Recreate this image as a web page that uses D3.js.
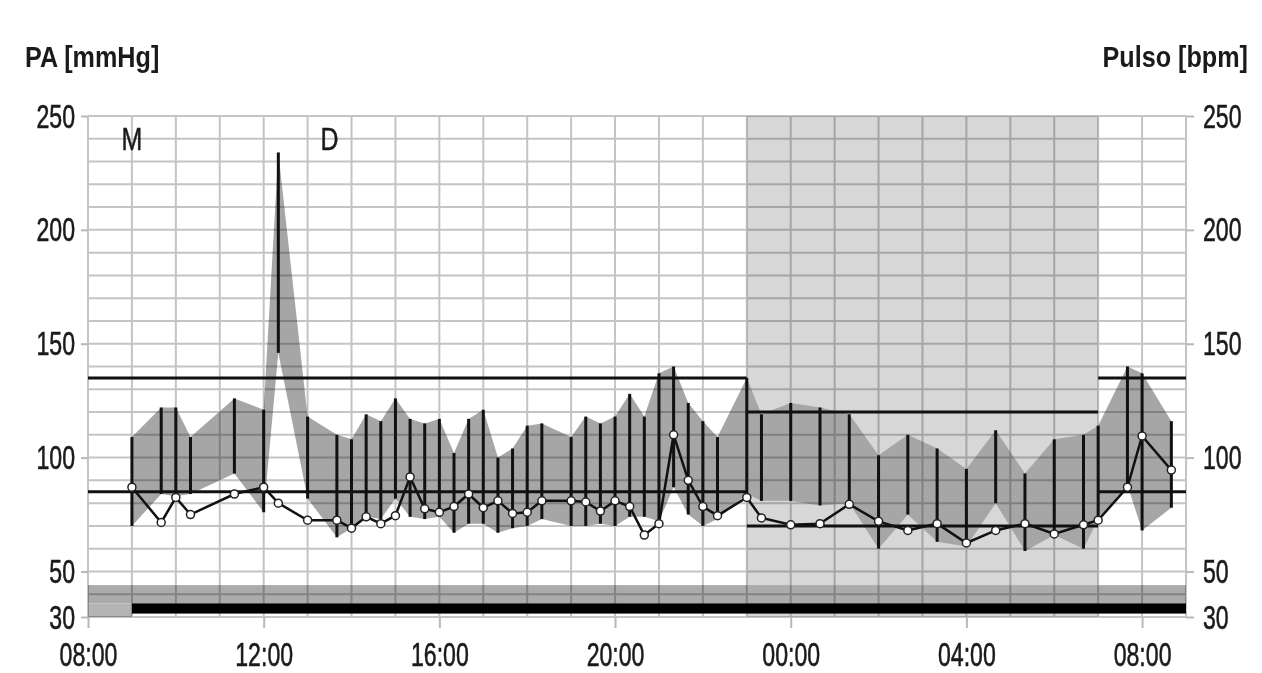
<!DOCTYPE html>
<html>
<head>
<meta charset="utf-8">
<script src="https://cdn.jsdelivr.net/npm/d3@7"></script>
<style>
    body { margin: 0; background: #fff; }
    text { font-family: "Liberation Sans", Arial, sans-serif; fill: #1a1a1a; }
</style>
</head>
<body>
<div id="chart"></div>
<script>
// measurement times (hh:mm, the list rolls over midnight)
var times = ["09:00","09:40","10:00","10:20","11:20","12:00","12:20","13:00","13:40","14:00",
             "14:20","14:40","15:00","15:20","15:40","16:00","16:20","16:40","17:00","17:20",
             "17:40","18:00","18:20","19:00","19:20","19:40","20:00","20:20","20:40","21:00",
             "21:20","21:40","22:00","22:20","23:00","23:20","00:00","00:40","01:20","02:00",
             "02:40","03:20","04:00","04:40","05:20","06:00","06:40","07:00","07:40","08:00",
             "08:40"];
var systolic = [109,122,122,109,126,121,234,118,110,108,
                119,116,126,117,115,117,102,117,121,100,
                104,114,115,109,118,115,118,128,118,137,
                140,124,116,109,135,119,124,122,119,101,
                110,104,95,112,93,108,110,114,140,137,
                116];
var diastolic = [70,84,83,84,93,76,146,82,65,69,
                 74,73,82,74,73,74,67,71,71,67,
                 69,70,73,70,70,71,70,74,74,72,
                 87,75,70,73,84,81,81,79,80,60,
                 75,63,61,80,59,66,60,73,88,68,
                 78];
var pulse = [87,71.5,82.5,75,84,87,80,72.5,72.5,69,
             74,71,74.5,91.5,77.5,76,78.5,84,78,81,
             75.5,76,81,81,80.5,76.5,81,78.5,66,71,
             110,90,78.5,74.5,82.5,73.5,70.5,71,79.5,72,
             68,71,62.5,68,71,66.5,70.5,72.5,87,109.5,
             94.5];

// reference limits: day / night / day
var limitBreaks = ["08:00","23:00","07:00","09:00"];
var limitSys = [135,120,135];
var limitDia = [85,70,85];
var nightSpan = ["23:00","07:00"];

var eventLabels = ["M","D"];
var eventTimes = ["09:00","13:30"];

var yTicks = [30,50,100,150,200,250];

var svgWidth = 1262, svgHeight = 673;
var margin = {top:116, right:76, bottom:56, left:88};
var chartWidth = svgWidth - margin.left - margin.right;
var chartHeight = svgHeight - margin.top - margin.bottom;

// hh:mm strings to dates, next day after a roll-over
function toDates(list) {
    var day = 0, prev = -1;
    return list.map(function(s){
        var p = s.split(":"), m = (+p[0])*60 + (+p[1]);
        if (m < prev) day++;
        prev = m;
        return new Date(2020, 0, 1 + day, +p[0], +p[1]);
    });
}

// the original lettering is narrow, squeeze it horizontally
function squeeze(sel, sx) {
    sel.each(function(){
        var t = d3.select(this);
        t.attr("x", (+t.attr("x") || 0) / sx)
         .attr("transform", "scale(" + sx + ",1)");
    });
}

var dates = toDates(times);
var data = dates.map(function(d, i){
    return {t: d, sys: systolic[i], dia: diastolic[i], pulse: pulse[i]};
});
var breaks = toDates(limitBreaks);
var night = toDates(nightSpan);
var events = toDates(eventTimes);

var svg = d3.select("#chart")
            .append("svg")
            .attr("width", svgWidth)
            .attr("height", svgHeight);

var chartGroup = svg.append("g")
                    .attr("transform", `translate(${margin.left},${margin.top})`);

var xScale = d3.scaleTime()
        .domain([breaks[0], breaks[breaks.length - 1]])
        .range([0, chartWidth]);

var yScale = d3.scaleLinear()
        .domain([30, 250])
        .range([chartHeight, 0]);

// night shading
chartGroup.append("rect")
    .attr("x", xScale(night[0]))
    .attr("y", 0)
    .attr("width", xScale(night[1]) - xScale(night[0]))
    .attr("height", chartHeight)
    .attr("fill", "#d7d7d7");

// systolic-diastolic band
var band = d3.area()
    .x(d => xScale(d.t))
    .y0(d => yScale(d.dia))
    .y1(d => yScale(d.sys));

chartGroup.append("path")
    .datum(data)
    .attr("d", band)
    .attr("fill", "#a6a6a6");

// bottom strip: gray band, black bar for the recording period
chartGroup.append("rect")
    .attr("x", 0)
    .attr("y", yScale(44))
    .attr("width", chartWidth)
    .attr("height", yScale(36) - yScale(44))
    .attr("fill", "#ababab");

chartGroup.append("rect")
    .attr("x", 0)
    .attr("y", yScale(36))
    .attr("width", xScale(dates[0]))
    .attr("height", yScale(30) - yScale(36))
    .attr("fill", "#b4b4b4");

chartGroup.append("rect")
    .attr("x", xScale(dates[0]))
    .attr("y", yScale(36))
    .attr("width", chartWidth - xScale(dates[0]))
    .attr("height", yScale(31.5) - yScale(36))
    .attr("fill", "#000");

// grid
var grid = chartGroup.append("g")
    .attr("stroke", "#c4c4c4")
    .attr("stroke-width", 2)
    .style("mix-blend-mode", "multiply");

grid.selectAll("line.h")
    .data(d3.range(30, 251, 10))
    .enter()
    .append("line")
        .attr("x1", 0)
        .attr("x2", chartWidth)
        .attr("y1", d => yScale(d))
        .attr("y2", d => yScale(d));

grid.selectAll("line.v")
    .data(xScale.ticks(d3.timeHour.every(1)))
    .enter()
    .append("line")
        .attr("x1", d => xScale(d))
        .attr("x2", d => xScale(d))
        .attr("y1", 0)
        .attr("y2", chartHeight);

// axes
var yAxisLeft = d3.axisLeft(yScale).tickValues(yTicks).tickSize(7).tickPadding(6);
var yAxisRight = d3.axisRight(yScale).tickValues(yTicks).tickSize(8).tickPadding(9);
var xAxis = d3.axisBottom(xScale)
    .ticks(d3.timeHour.every(4))
    .tickFormat(d3.timeFormat("%H:%M"))
    .tickSize(11)
    .tickPadding(14);

var leftG = chartGroup.append("g").call(yAxisLeft);
var rightG = chartGroup.append("g")
    .attr("transform", `translate(${chartWidth},0)`)
    .call(yAxisRight);
var bottomG = chartGroup.append("g")
    .attr("transform", `translate(0,${chartHeight})`)
    .call(xAxis);

[leftG, rightG, bottomG].forEach(function(g){
    g.attr("font-size", 34);
    g.select(".domain").remove();
    g.selectAll(".tick line").attr("stroke", "#b8b8b8").attr("stroke-width", 2);
    g.selectAll("text").attr("stroke", "#1a1a1a").attr("stroke-width", 0.6);
    squeeze(g.selectAll("text"), 0.68);
});
leftG.selectAll("text").attr("dy", 11);
rightG.selectAll("text").attr("dy", 11);

// reference limits
for (var i = 0; i < limitSys.length; i++) {
    [limitSys[i], limitDia[i]].forEach(function(v){
        chartGroup.append("line")
            .attr("x1", xScale(breaks[i]))
            .attr("x2", xScale(breaks[i + 1]))
            .attr("y1", yScale(v))
            .attr("y2", yScale(v))
            .attr("stroke", "#111")
            .attr("stroke-width", 3);
    });
}

// one bar per measurement
chartGroup.append("g")
    .selectAll("line")
    .data(data)
    .enter()
    .append("line")
        .attr("x1", d => xScale(d.t))
        .attr("x2", d => xScale(d.t))
        .attr("y1", d => yScale(d.sys))
        .attr("y2", d => yScale(d.dia))
        .attr("stroke", "#111")
        .attr("stroke-width", 3);

// pulse
var pulseLine = d3.line()
    .x(d => xScale(d.t))
    .y(d => yScale(d.pulse));

chartGroup.append("path")
    .datum(data)
    .attr("d", pulseLine)
    .attr("fill", "none")
    .attr("stroke", "#111")
    .attr("stroke-width", 2.5);

chartGroup.append("g")
    .selectAll("circle")
    .data(data)
    .enter()
    .append("circle")
        .attr("cx", d => xScale(d.t))
        .attr("cy", d => yScale(d.pulse))
        .attr("r", 4)
        .attr("fill", "#fff")
        .attr("stroke", "#222")
        .attr("stroke-width", 1.5);

// event marks
chartGroup.append("g")
    .selectAll("text")
    .data(eventLabels)
    .enter()
    .append("text")
        .attr("transform", (d, i) => `translate(${xScale(events[i])},34) scale(0.78,1)`)
        .attr("text-anchor", "middle")
        .attr("font-size", 32)
        .attr("stroke", "#1a1a1a")
        .attr("stroke-width", 0.5)
        .text(d => d);

// axis titles
svg.append("text")
    .attr("transform", "translate(25,67) scale(0.84,1)")
    .attr("font-size", 30)
    .attr("font-weight", "bold")
    .text("PA [mmHg]");

svg.append("text")
    .attr("transform", "translate(1248,67) scale(0.84,1)")
    .attr("text-anchor", "end")
    .attr("font-size", 30)
    .attr("font-weight", "bold")
    .text("Pulso [bpm]");
</script>
</body>
</html>
